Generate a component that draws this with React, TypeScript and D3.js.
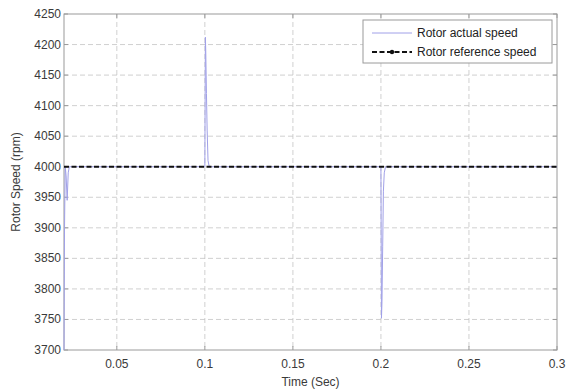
import { useEffect, useRef } from "react";
import * as d3 from "d3";

const xTicks = [0.05, 0.1, 0.15, 0.2, 0.25, 0.3];
const yTicks = [3700, 3750, 3800, 3850, 3900, 3950, 4000, 4050, 4100, 4150, 4200, 4250];

// rotor actual speed (time in s, speed in rpm)
const actualTime = [0.02, 0.0203, 0.0207, 0.0212, 0.0218, 0.0224, 0.023, 0.1, 0.1003, 0.1005, 0.1009, 0.1013, 0.1018, 0.1025, 0.2, 0.2003, 0.2006, 0.201, 0.2014, 0.2019, 0.2026, 0.3];
const actualSpeed = [3700, 3900, 4000, 3985, 3945, 3990, 4000, 4000, 4212, 4190, 4120, 4060, 4010, 4000, 4000, 3752, 3780, 3870, 3960, 3990, 4000, 4000];

const refTime = [0.02, 0.3];
const refSpeed = [4000, 4000];

const legendLabels = ["Rotor actual speed", "Rotor reference speed"];

export default function App() {
  const ref = useRef<SVGSVGElement>(null);

  useEffect(() => {
    if (!ref.current) return;
    const W = 570, H = 391;
    const m = { left: 64, right: 13, top: 14, bottom: 41 };

    const svg = d3.select(ref.current);
    svg.selectAll("*").remove();
    svg.attr("width", W).attr("height", H);
    svg.append("rect").attr("width", W).attr("height", H).attr("fill", "#fff");

    const x = d3.scaleLinear().domain([0.02, 0.3]).range([m.left, W - m.right]);
    const y = d3.scaleLinear().domain([3700, 4250]).range([H - m.bottom, m.top]);
    const font = "Liberation Sans, Arial, sans-serif";

    const grid = svg.append("g").attr("stroke", "#c4c4c4").attr("stroke-dasharray", "5,3").attr("stroke-width", 0.8);
    grid.selectAll("line.vx")
      .data(xTicks.slice(0, -1))
      .join("line")
      .attr("x1", (d) => x(d)).attr("x2", (d) => x(d))
      .attr("y1", m.top).attr("y2", H - m.bottom);
    grid.selectAll("line.hy")
      .data(yTicks.slice(1, -1))
      .join("line")
      .attr("class", "hy")
      .attr("x1", m.left).attr("x2", W - m.right)
      .attr("y1", (d) => y(d)).attr("y2", (d) => y(d));

    // frame
    svg.append("rect")
      .attr("x", m.left).attr("y", m.top)
      .attr("width", W - m.left - m.right).attr("height", H - m.top - m.bottom)
      .attr("fill", "none").attr("stroke", "#9a9a9a").attr("stroke-width", 1);

    const ticks = svg.append("g").attr("stroke", "#9a9a9a");
    yTicks.forEach((t) => {
      ticks.append("line").attr("x1", m.left).attr("x2", m.left + 4).attr("y1", y(t)).attr("y2", y(t));
      ticks.append("line").attr("x1", W - m.right - 4).attr("x2", W - m.right).attr("y1", y(t)).attr("y2", y(t));
    });
    xTicks.forEach((t) => {
      ticks.append("line").attr("x1", x(t)).attr("x2", x(t)).attr("y1", H - m.bottom).attr("y2", H - m.bottom - 4);
      ticks.append("line").attr("x1", x(t)).attr("x2", x(t)).attr("y1", m.top).attr("y2", m.top + 4);
    });

    svg.append("g").selectAll("text")
      .data(yTicks)
      .join("text")
      .attr("x", m.left - 3).attr("y", (d) => y(d) + 4)
      .attr("text-anchor", "end")
      .attr("font-family", font).attr("font-size", 12).attr("fill", "#3a3a3a")
      .text((d) => d);

    svg.append("g").selectAll("text")
      .data(xTicks)
      .join("text")
      .attr("x", (d) => x(d)).attr("y", H - m.bottom + 18)
      .attr("text-anchor", "middle")
      .attr("font-family", font).attr("font-size", 12).attr("fill", "#3a3a3a")
      .text((d) => String(d));

    svg.append("text")
      .attr("x", (m.left + W - m.right) / 2).attr("y", H - 5)
      .attr("text-anchor", "middle")
      .attr("font-family", font).attr("font-size", 12).attr("fill", "#3a3a3a")
      .text("Time (Sec)");

    svg.append("text")
      .attr("transform", `translate(20,${(m.top + H - m.bottom) / 2}) rotate(-90)`)
      .attr("text-anchor", "middle")
      .attr("font-family", font).attr("font-size", 12).attr("fill", "#3a3a3a")
      .text("Rotor Speed (rpm)");

    const line = d3.line<number>()
      .x((d, i) => x(actualTime[i]))
      .y((d) => y(d));
    const refLine = d3.line<number>()
      .x((d, i) => x(refTime[i]))
      .y((d) => y(d));

    svg.append("path")
      .attr("d", line(actualSpeed))
      .attr("fill", "none").attr("stroke", "#a0a0e8").attr("stroke-width", 1);

    svg.append("path")
      .attr("d", refLine(refSpeed))
      .attr("fill", "none").attr("stroke", "#111").attr("stroke-width", 2.2)
      .attr("stroke-dasharray", "5,2.5");

    // legend
    const lg = svg.append("g").attr("transform", "translate(363,20)");
    lg.append("rect").attr("width", 189).attr("height", 43)
      .attr("fill", "#fff").attr("stroke", "#9a9a9a");
    lg.append("line").attr("x1", 9).attr("x2", 49).attr("y1", 13).attr("y2", 13)
      .attr("stroke", "#a0a0e8").attr("stroke-width", 1);
    lg.append("line").attr("x1", 9).attr("x2", 49).attr("y1", 32).attr("y2", 32)
      .attr("stroke", "#111").attr("stroke-width", 2.2).attr("stroke-dasharray", "5,2.5");
    lg.append("circle").attr("cx", 29).attr("cy", 32).attr("r", 2.2).attr("fill", "#111");
    lg.selectAll("text.l")
      .data(legendLabels)
      .join("text")
      .attr("x", 54).attr("y", (d, i) => 17 + i * 19)
      .attr("font-family", font).attr("font-size", 12).attr("fill", "#222")
      .text((d) => d);
  }, []);

  return <svg ref={ref} style={{ position: "absolute", left: 0, top: 0 }} />;
}
